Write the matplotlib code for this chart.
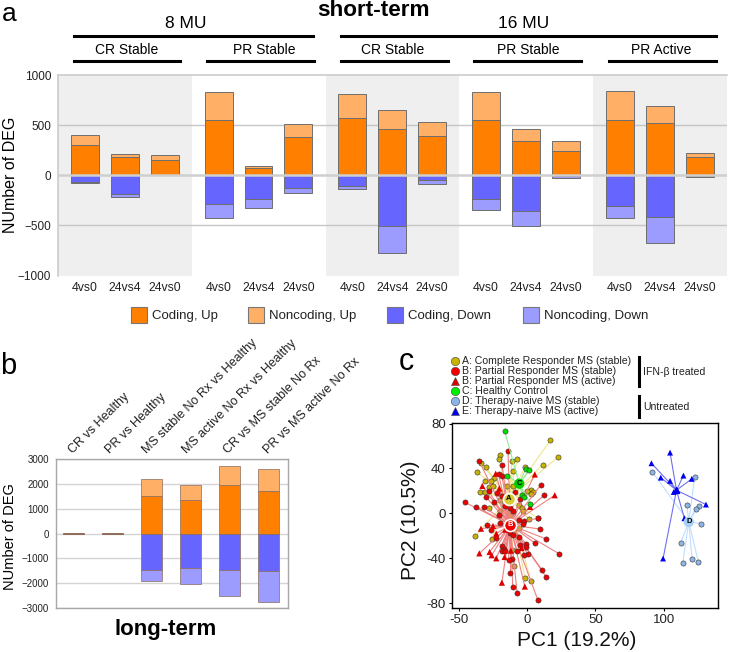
import matplotlib
matplotlib.use("Agg")
import matplotlib.pyplot as plt
from matplotlib.patches import Rectangle
from matplotlib.lines import Line2D

plt.rcParams["font.family"] = ["Liberation Sans", "DejaVu Sans"]

W, H = 729, 652

# ── panel a data ──────────────────────────────────────────────────────────────
TIMES = ["4vs0", "24vs4", "24vs0"]
GROUPS = ["CR Stable", "PR Stable", "CR Stable", "PR Stable", "PR Active"]
A_COD_UP = [[303, 184, 155], [549, 76, 378], [569, 464, 391], [549, 342, 243], [549, 520, 184]]
A_TOT_UP = [[405, 214, 204], [835, 95, 510], [806, 648, 530], [835, 464, 342], [842, 691, 217]]
A_COD_DN = [[-66, -184, 0], [-286, -240, -125], [-105, -510, -43], [-240, -352, -8], [-309, -414, -5]]
A_TOT_DN = [[-79, -220, 0], [-431, -322, -174], [-135, -780, -92], [-342, -510, -26], [-431, -674, -16]]

# ── panel b data ──────────────────────────────────────────────────────────────
B_LABELS = ["CR vs Healthy", "PR vs Healthy", "MS stable No Rx vs Healthy",
            "MS active No Rx vs Healthy", "CR vs MS stable No Rx", "PR vs MS active No Rx"]
B_COD_UP = [15, 15, 1500, 1340, 1970, 1705]
B_TOT_UP = [20, 20, 2190, 1945, 2710, 2590]
B_COD_DN = [-10, -10, -1450, -1370, -1450, -1515]
B_TOT_DN = [-15, -15, -1930, -2040, -2510, -2750]

# ── panel c data ──────────────────────────────────────────────────────────────
PC_A = [(17, 65), (22.4, 50), (-20, 51.8), (-20.7, 48.5), (-11, 47), (-7.3, 48), (11.4, 43.5),
        (-30.2, 41), (-37, 37.2), (-1.5, 41.4), (-10.7, 37.5), (-33.8, 45), (-30.7, 29.2),
        (-24.6, 31.6), (-26.5, 28.6), (-28.2, 23.6), (-25, 24.2), (-34.3, 18.8), (-30.9, 19.4),
        (-14.4, 24.7), (-10, 23.9), (2.9, 21.2), (-0.2, 20.3), (4.6, 18.8), (2.9, 17),
        (-19.7, 12.3), (-17.3, 7.8), (-28, 4.3), (-20.2, 2.5), (-19.7, -1), (-6.3, 7.8),
        (-3.9, 4.8), (-3.2, 2.5), (-13.6, -2.6), (-10, 0.4), (-38.2, -20.5), (-26, -23.2),
        (-9.5, -47.2), (-1.5, -58), (2.7, -60.6), (-11.2, -32.4), (-5.8, -13.1), (-20.4, -2.1),
        (-13.4, -1.8), (1.7, -5.4), (8, -4.5), (-9.5, -14.6)]
PC_B = [(-35, 46.4), (-14, 55.3), (-18.5, 43.5), (-20.9, 34.6), (-18.5, 33.7), (-45.7, 9.9),
        (-37.5, 6), (-31.4, 5.5), (-24.3, 9.9), (10, 25.3), (12.4, 16.1), (-8.8, 18.8),
        (-28.2, 19.7), (-29.9, 14.3), (-21.7, 18.2), (-18.5, 15.2), (-16, 6.3), (-12.9, 4.8),
        (-10, 2.5), (-5.1, 13.2), (-20.9, -1.7), (7.8, -4.4), (-29.4, -10.7), (-26.5, -14.6),
        (-23.1, -22), (-19.7, -8.6), (-6.3, -5.7), (-2.2, -6.5), (-3.2, -9.5), (9.5, -14),
        (13.9, -22.9), (5.4, -26.4), (23.6, -36.2), (-5.8, -21.4), (-12.4, -17.5), (-10, -19),
        (-18.5, -29.4), (-16.8, -31.5), (-18.5, -33.3), (-16, -33.3), (-11.2, -40.4),
        (-13.6, -41.6), (-7.3, -33.9), (-5.1, -28.5), (-0.7, -27.3), (-0.5, -30.3), (0.5, -36.5),
        (-2, -36.8), (10.7, -50.2), (13.9, -56.7), (-12.4, -52.9), (-10.5, -66), (-7.3, -71.3),
        (7.8, -77.2)]
PC_B_ACT = [(-23, 35.4), (-32.8, 24.4), (5.6, 34.6), (20.2, 16.1), (2.2, 5.7), (-20.4, 22.1),
            (-33.8, -13.7), (-25, -11.3), (-22.6, -18.1), (-35, -35.7), (-27.5, -34.5),
            (-26, -37.4), (-22.6, -40.1), (-16.5, -38.9), (-11.9, -33.3), (-4.1, -30.9),
            (-18.5, -61.8), (-1.7, -65.3), (-16, -14.6)]
PC_C = [(-16.5, 73.5), (-1, 39.9), (1.7, 38.4), (-14.4, 33.7), (2.2, 8.7), (-3.6, 16.1), (-2.2, 14.4)]
PC_D = [(91.5, 37.2), (122.6, 32.4), (117, 7.2), (125.6, 6.6), (123.4, 4.2), (127.5, -9.1),
        (112.4, -26.4), (120.7, -40.6), (125.3, -43), (113.9, -44.2)]
PC_E = [(104.6, 54.1), (91, 44.6), (97.8, 31.8), (104.6, 28.9), (114.4, 33.6), (120.5, 30.7),
        (130.9, 7.8), (115.1, -4.4), (99.5, -40.3), (107.3, 19), (110, 20.3)]
CENTRE_A = (-13.4, 13)
CENTRE_B = (-12.4, -10.4)
CENTRE_C = (-5.8, 26.4)
CENTRE_D = (118.3, -7.7)
CENTRE_E = (109.3, 20.6)

C_UP, C_UP2, C_DN, C_DN2 = "#FF8000", "#FFB066", "#6666FF", "#9C9CFF"


def add_axes_px(fig, left, top, right, bottom):
    return fig.add_axes([left / W, 1 - bottom / H, (right - left) / W, (bottom - top) / H])


def ftext(x, y, s, **kw):
    kw.setdefault("ha", "center")
    kw.setdefault("va", "center")
    fig.text(x / W, 1 - y / H, s, **kw)


def fline(x0, x1, y0, y1, **kw):
    fig.add_artist(Line2D([x0 / W, x1 / W], [1 - y0 / H, 1 - y1 / H], transform=fig.transFigure, **kw))


fig = plt.figure(figsize=(W / 100, H / 100), dpi=100)

# ── a ───────────────────────────────────────────────────────────────────────
ax = add_axes_px(fig, 58, 75, 727, 275.5)
GROUP_STEP = 3.35
ax.set_xlim(-0.67, len(GROUPS) * GROUP_STEP - 0.67)
ax.set_ylim(-1000, 1000)
xs, xl = [], []
for g in range(len(GROUPS)):
    if g % 2 == 0:
        ax.axvspan(g * GROUP_STEP - 0.67, (g + 1) * GROUP_STEP - 0.67, color="#EFEFEF", lw=0, zorder=0)
    for i, t in enumerate(TIMES):
        x = g * GROUP_STEP + i
        xs.append(x)
        xl.append(t)
        ckw = dict(width=0.7, edgecolor="#6E6E6E", linewidth=0.7, zorder=3)
        ax.bar(x, A_COD_UP[g][i], color=C_UP, **ckw)
        ax.bar(x, A_TOT_UP[g][i] - A_COD_UP[g][i], bottom=A_COD_UP[g][i], color=C_UP2, **ckw)
        ax.bar(x, A_COD_DN[g][i], color=C_DN, **ckw)
        ax.bar(x, A_TOT_DN[g][i] - A_COD_DN[g][i], bottom=A_COD_DN[g][i], color=C_DN2, **ckw)
for v in (-500, 500):
    ax.axhline(v, color="#C6C6C6", lw=1, zorder=1)
ax.axhline(0, color="#CFCFCF", lw=1.8, zorder=4)
ax.set_xticks(xs)
ax.set_xticklabels(xl, fontsize=8.8, color="#222222")
ax.set_yticks([-1000, -500, 0, 500, 1000])
ax.set_yticklabels(["\u22121000", "\u2212500", "0", "500", "1000"], fontsize=8.5, color="#222222")
ax.tick_params(length=0, pad=5)
for s in ax.spines.values():
    s.set_visible(False)
ax.spines["top"].set_visible(True)
ax.spines["left"].set_visible(True)
ax.spines["top"].set_color("#CCCCCC")
ax.spines["left"].set_color("#CCCCCC")
ax.spines["top"].set_linewidth(1.2)
ax.spines["left"].set_linewidth(1.2)

ftext(373, 10, "short-term", fontsize=16.2, fontweight="bold")
ftext(186, 23, "8 MU", fontsize=12.5)
ftext(524, 23, "16 MU", fontsize=12.5)
fline(74, 313, 36, 36, color="black", lw=2.2)
fline(341, 716, 36, 36, color="black", lw=2.2)
for name, cx, x0, x1 in zip(GROUPS, [127, 264, 393, 528, 661], [74, 207, 341, 474, 609], [180, 314, 448, 581, 716]):
    ftext(cx, 50, name, fontsize=10)
    fline(x0, x1, 61, 61, color="black", lw=2.2)
ftext(11, 175, "NUmber of DEG", fontsize=11.5, rotation=90)

for sx, col, lab in zip([131, 248, 387, 523], [C_UP, C_UP2, C_DN, C_DN2],
                        ["Coding, Up", "Noncoding, Up", "Coding, Down", "Noncoding, Down"]):
    fig.add_artist(Rectangle((sx / W, 1 - 323 / H), 16 / W, 16 / H, transform=fig.transFigure,
                             facecolor=col, edgecolor="#777777", lw=0.8))
    ftext(sx + 21, 316, lab, fontsize=9.5, ha="left", color="#222222")

# ── b ───────────────────────────────────────────────────────────────────────
bx = add_axes_px(fig, 56, 459, 288, 608)
bx.set_xlim(-0.45, 5.5)
bx.set_ylim(-3000, 3000)
pos = list(range(len(B_LABELS)))
bkw = dict(width=0.55, edgecolor="#8A6A5A", linewidth=0.5, zorder=3)
bx.bar(pos, B_COD_UP, color=C_UP, **bkw)
bx.bar(pos, [t - c for t, c in zip(B_TOT_UP, B_COD_UP)], bottom=B_COD_UP, color=C_UP2, **bkw)
bx.bar(pos, B_COD_DN, color=C_DN, **bkw)
bx.bar(pos, [t - c for t, c in zip(B_TOT_DN, B_COD_DN)], bottom=B_COD_DN, color=C_DN2, **bkw)
bx.set_yticks([-3000, -2000, -1000, 0, 1000, 2000, 3000])
bx.set_yticklabels(["\u22123000", "\u22122000", "\u22121000", "0", "1000", "2000", "3000"],
                   fontsize=7, color="#222222")
bx.set_xticks([])
bx.tick_params(length=0, pad=5)
bx.yaxis.grid(True, color="#D4D4D4", lw=1)
bx.set_axisbelow(True)
for s in bx.spines.values():
    s.set_color("#A8A8A8")
    s.set_linewidth(1)
for lab, sx in zip(B_LABELS, [75, 112, 149, 189, 230, 270]):
    ftext(sx, 456, lab, fontsize=9.0, rotation=45, ha="left", va="bottom", rotation_mode="anchor",
          color="#222222")
ftext(10, 537, "NUmber of DEG", fontsize=10.5, rotation=90)
ftext(166, 630, "long-term", fontsize=16, fontweight="bold")

# ── c ───────────────────────────────────────────────────────────────────────
cx_ = add_axes_px(fig, 452, 423, 718, 608)
cx_.set_xlim(-55, 139.7)
cx_.set_ylim(-84.4, 80.5)


def spider(points, centre, col_line, col_pt, marker, size, z):
    for px, py in points:
        cx_.plot([centre[0], px], [centre[1], py], color=col_line, lw=0.8, zorder=z)
    cx_.scatter([p[0] for p in points], [p[1] for p in points], c=col_pt, marker=marker, s=size,
                edgecolors="#333333" if marker == "o" else "none", linewidths=0.4, zorder=z + 1)


spider(PC_D, CENTRE_D, "#BFDFFF", "#8DB6E8", "o", 14, 2)
spider(PC_E, CENTRE_E, "#7070F0", "#0000EE", "^", 18, 2)
spider(PC_A, CENTRE_A, "#F0E68C", "#C8B400", "o", 14, 3)
spider(PC_B, CENTRE_B, "#F08080", "#EE0000", "o", 14, 5)
spider(PC_B_ACT, CENTRE_B, "#F08080", "#DD0000", "^", 20, 5)
spider(PC_C, CENTRE_C, "#90EE90", "#00DD00", "o", 14, 7)
for (mx, my), lab, face, txt, size in [(CENTRE_A, "A", "#D8CC30", "black", 75), (CENTRE_B, "B", "#EE0000", "white", 75),
                                       (CENTRE_C, "C", "#00CC00", "black", 55), (CENTRE_D, "D", "#A8D0F5", "black", 55)]:
    cx_.scatter([mx], [my], s=size, c=face, edgecolors="white" if lab in "AB" else "none", linewidths=1.2, zorder=10)
    cx_.text(mx, my, lab, fontsize=5.5, fontweight="bold", color=txt, ha="center", va="center", zorder=11)
cx_.scatter([CENTRE_E[0]], [CENTRE_E[1]], s=18, c="#0000EE", marker="^", zorder=10)
cx_.set_xticks([-50, 0, 50, 100])
cx_.set_xticklabels(["-50", "0", "50", "100"], fontsize=9.5, color="#222222")
cx_.set_yticks([-80, -40, 0, 40, 80])
cx_.set_yticklabels(["-80", "-40", "0", "40", "80"], fontsize=9.5, color="#222222")
cx_.tick_params(length=2.5, width=0.8, pad=2)
for s in cx_.spines.values():
    s.set_linewidth(1)
ftext(577, 640, "PC1 (19.2%)", fontsize=15, color="#111111")
ftext(411, 520, "PC2 (10.5%)", fontsize=15, rotation=90, color="#111111")

legend_items = [("A: Complete Responder MS (stable)", "#C8B400", "o"),
                ("B: Partial Responder MS (stable)", "#EE0000", "o"),
                ("B: Partial Responder MS (active)", "#DD0000", "^"),
                ("C: Healthy Control", "#00EE00", "o"),
                ("D: Therapy-naive MS (stable)", "#8DB6E8", "o"),
                ("E: Therapy-naive MS (active)", "#0000EE", "^")]
for (lab, col, mk), ly in zip(legend_items, [361, 371, 381, 391, 401, 411]):
    fig.add_artist(Line2D([454.7 / W], [1 - ly / H], transform=fig.transFigure, marker=mk, ms=6,
                          mfc=col, mec="#444444", mew=0.4, ls="none"))
    ftext(462, ly, lab, fontsize=7.6, ha="left", color="#222222")
fline(639.3, 639.3, 357, 385.7, color="black", lw=2.2)
fline(639.3, 639.3, 396, 416.7, color="black", lw=2.2)
ftext(643, 372, "IFN-\u03b2 treated", fontsize=7.6, ha="left", color="#222222")
ftext(643, 407, "Untreated", fontsize=7.6, ha="left", color="#222222")

# ── panel letters ───────────────────────────────────────────────────────────
ftext(2, 21, "a", fontsize=19, ha="left", va="baseline")
ftext(8, 366, "b", fontsize=21)
ftext(406, 362, "c", fontsize=22)

fig.savefig("out.png", dpi=100)
